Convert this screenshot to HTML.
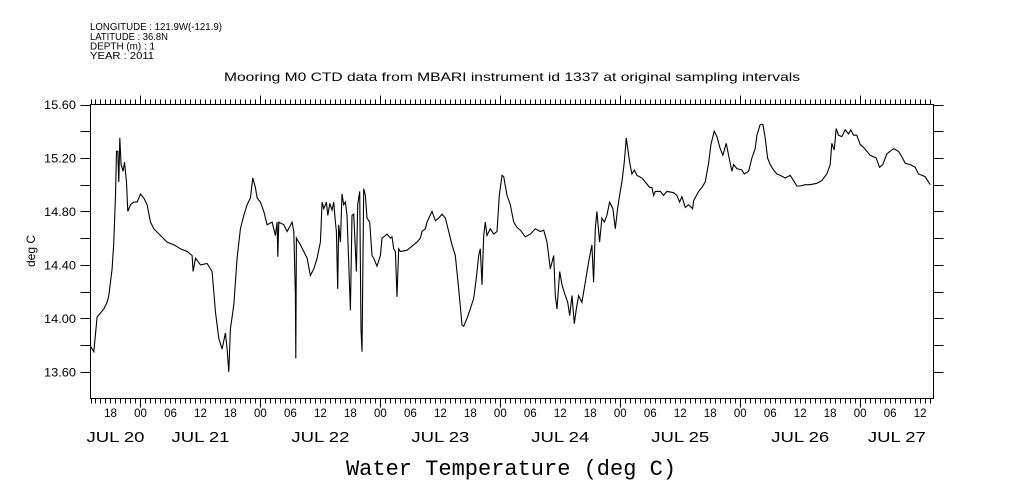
<!DOCTYPE html>
<html><head><meta charset="utf-8"><style>
html,body{margin:0;padding:0;background:#fff;}
svg{display:block;}
text{font-family:"Liberation Sans",sans-serif;fill:#000;}
</style></head><body>
<svg id="chart" width="1009" height="504" viewBox="0 0 1009 504" xmlns="http://www.w3.org/2000/svg">
<g font-size="10">
<text x="90" y="30" textLength="132" lengthAdjust="spacingAndGlyphs">LONGITUDE : 121.9W(-121.9)</text>
<text x="90" y="40" textLength="78" lengthAdjust="spacingAndGlyphs">LATITUDE : 36.8N</text>
<text x="90" y="49.5" textLength="65" lengthAdjust="spacingAndGlyphs">DEPTH (m) : 1</text>
<text x="90" y="59" textLength="64" lengthAdjust="spacingAndGlyphs">YEAR : 2011</text>
</g>
<text x="224" y="81" textLength="576" lengthAdjust="spacingAndGlyphs" font-size="12">Mooring M0 CTD data from MBARI instrument id 1337 at original sampling intervals</text>
<text transform="translate(35,251) rotate(-90)" text-anchor="middle" font-size="12">deg C</text>
<text x="511" y="475" text-anchor="middle" font-size="22" style="font-family:'Liberation Mono',monospace">Water Temperature (deg C)</text>
<g id="axes"></g>
<g id="series"></g>
</svg>
<script>
// hours since Jul 20 14:00
const hours = [0,0.67,1.33,2,2.67,3.33,3.67,4.33,4.67,5,5.2,5.47,5.67,5.87,6.13,6.53,6.8,7.2,7.47,8,8.67,9.33,10,10.67,11.33,12,12.67,14,15.33,16.67,18,19.33,20.33,20.53,21,22,23.33,24.33,25,25.67,26.33,27,27.33,27.67,28,28.67,29.33,30,30.67,31.33,32,32.47,33,33.33,34,34.67,35.33,36.33,37,37.33,37.47,37.67,38.67,39.33,40.33,40.67,41,41.07,41.2,42,42.67,43.33,44,44.67,45.33,46,
46.33,46.67,47.2,47.47,47.87,48.33,48.67,49,49.2,49.47,49.67,50,50.33,50.67,51,51.33,51.67,52,52.33,52.67,53.2,53.47,53.87,54.13,54.33,54.67,55,55.33,55.87,56.33,56.67,57.33,58,58.33,59,59.33,60,60.33,60.67,61,61.33,61.67,62,63.33,64.33,65.33,66,66.33,67,67.33,68.33,69,69.67,70.33,71,71.67,72.33,73,73.67,74.33,74.67,75.33,76,76.67,77.2,77.67,78,78.33,78.67,79,79.33,80,80.67,81.33,81.8,82.33,82.67,83.33,84,84.67,85.33,86,87,88,89,90,90.67,91.33,92,92.67,93,93.33,93.87,94.33,95,95.47,95.87,96.33,96.8,97.2,97.67,98.33,99,99.67,100.33,100.67,101,101.33,101.87,102.33,102.8,103.33,103.87,104.53,105,105.47,105.87,106.33,106.8,107.2,107.87,108.33,108.8,109.33,110.33,111,111.87,
112.33,112.67,113,114,114.67,115.33,116.67,117.33,117.87,118.33,119,119.67,120.47,120.67,121.67,122.33,123,123.67,124.13,124.8,125.33,126,126.53,127.2,127.67,128.33,128.67,129.33,130.33,130.8,131.67,132.33,133,133.33,134,134.53,135,135.47,136,136.67,137.33,138,139,140,140.67,141.33,142,143,144,145.33,146.33,147.33,148,148.33,148.8,149.2,149.67,150.33,151,151.67,152.13,152.67,153.33,154,154.67,156,157.2,157.87,158.53,159.33,160.67,161.67,162.33,163,164,165,165.67,166.33,167,168];
const temps = [13.79,13.75,14.01,14.04,14.07,14.12,14.17,14.37,14.57,14.92,15.25,15.25,15.02,15.35,15.15,15.10,15.17,15.02,14.80,14.85,14.87,14.87,14.93,14.90,14.85,14.72,14.67,14.62,14.57,14.55,14.52,14.50,14.47,14.35,14.45,14.40,14.41,14.35,14.05,13.85,13.77,13.89,13.77,13.60,13.92,14.10,14.45,14.67,14.77,14.85,14.90,15.05,14.98,14.90,14.87,14.80,14.70,14.72,14.62,14.72,14.46,14.72,14.70,14.65,14.72,14.65,14.17,13.70,14.60,14.55,14.50,14.45,14.32,14.37,14.45,14.57,
14.87,14.82,14.87,14.77,14.86,14.81,14.87,14.72,14.65,14.22,14.70,14.57,14.93,14.85,14.87,14.77,14.42,14.06,14.77,14.78,14.35,14.85,14.95,13.92,13.75,14.97,14.92,14.75,14.72,14.47,14.45,14.39,14.47,14.60,14.62,14.63,14.60,14.61,14.52,14.50,14.16,14.52,14.50,14.51,14.54,14.57,14.60,14.65,14.67,14.72,14.80,14.73,14.75,14.78,14.75,14.65,14.55,14.47,14.22,13.95,13.94,14.00,14.07,14.15,14.30,14.47,14.52,14.25,14.62,14.72,14.62,14.67,14.63,14.65,14.92,15.07,15.06,14.92,14.85,14.72,14.68,14.66,14.61,14.63,14.67,14.65,14.66,14.57,14.37,14.47,14.17,14.07,14.35,14.25,14.17,14.12,14.02,14.17,13.96,14.07,14.17,14.12,14.27,14.42,14.55,14.27,14.67,14.80,14.57,14.75,14.72,14.77,14.87,14.82,14.67,14.82,14.92,15.02,15.17,15.35,15.17,15.08,15.11,15.07,15.05,15.02,14.98,
14.98,14.92,14.95,14.95,14.92,14.95,14.94,14.92,14.87,14.91,14.83,14.85,14.82,14.88,14.95,14.98,15.02,15.16,15.30,15.40,15.36,15.27,15.22,15.31,15.22,15.10,15.15,15.12,15.11,15.08,15.10,15.20,15.27,15.37,15.45,15.45,15.35,15.20,15.15,15.11,15.08,15.07,15.05,15.07,15.03,14.99,14.99,15.00,15.00,15.01,15.03,15.08,15.15,15.31,15.26,15.42,15.37,15.36,15.41,15.38,15.41,15.37,15.37,15.30,15.28,15.22,15.20,15.13,15.15,15.23,15.27,15.25,15.21,15.16,15.15,15.13,15.08,15.07,15.06,15.00];
const yTickLabels = ["13.60","14.00","14.40","14.80","15.20","15.60"];
const hourLabels = ["00","06","12","18"];
const dayLabels = ["JUL 20","JUL 21","JUL 22","JUL 23","JUL 24","JUL 25","JUL 26","JUL 27"];

const NS="http://www.w3.org/2000/svg";
const L=90.5,R=933.5,T=104.5,B=398.5;
const hMax=168.67, yMin=13.4, yMax=15.6;
const xs=h=>L+(R-L)*h/hMax;
const ys=v=>B-(B-T)*(v-yMin)/(yMax-yMin);
const axes=document.getElementById('axes');
function mk(tag,attrs,parent){const e=document.createElementNS(NS,tag);for(const k in attrs)e.setAttribute(k,attrs[k]);parent.appendChild(e);return e;}
let d='M'+L+','+T+'H'+R+'V'+B+'H'+L+'Z';
const frame=mk('path',{d:d,fill:'none',stroke:'#000','stroke-width':1},axes);


let td='';
for(let h=0;h<=hMax;h++){
  const x=Math.round(xs(h))+0.5;
  const major=((h-10)%24+24)%24===0;
  const len=major?9:5;
  td+='M'+x+','+B+'v'+len+'M'+x+','+T+'v'+(-len);
}
for(let v=13.6;v<=15.61;v+=0.2){
  const y=Math.round(ys(v))+0.5;
  td+='M'+L+','+y+'h-10M'+R+','+y+'h10';
}
const ticks=mk('path',{d:td,fill:'none',stroke:'#000','stroke-width':1},axes);


yTickLabels.forEach(s=>{
  const t=mk('text',{x:44,y:ys(parseFloat(s))+4.5,'font-size':12,textLength:32,lengthAdjust:'spacingAndGlyphs'},axes);
  t.textContent=s;
  
  
});
for(let h=4;h<=hMax;h+=6){
  const idx=(((h-10)/6)%4+4)%4;
  const t=mk('text',{x:xs(h),y:417,'text-anchor':'middle','font-size':11.5},axes);
  t.textContent=hourLabels[idx];
  
  
}
dayLabels.forEach((s,i)=>{
  const a=Math.max(0,-14+24*i), b=Math.min(hMax,10+24*i);
  const cx=(xs(a)+xs(b))/2;
  const t=mk('text',{x:cx-29,y:442,'font-size':15,textLength:58,lengthAdjust:'spacingAndGlyphs'},axes);
  t.textContent=s;
  
  
});
const series=document.getElementById('series');
let pd='';
hours.forEach((h,i)=>{pd+=(i?'L':'M')+xs(h).toFixed(1)+','+ys(temps[i]).toFixed(1);});
const line=mk('path',{d:pd,fill:'none',stroke:'#000','stroke-width':1.1,'stroke-linejoin':'miter'},series);


</script>
</body></html>
